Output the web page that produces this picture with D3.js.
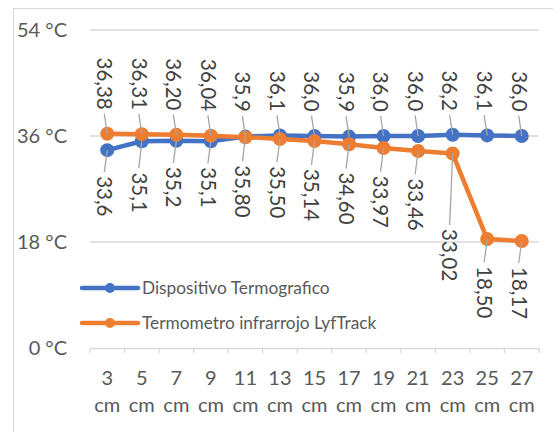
<!DOCTYPE html>
<html>
<head>
<meta charset="utf-8">
<script src="https://cdn.jsdelivr.net/npm/d3@7"></script>
<style>
  body { margin: 0; background: #fff; }
  svg { display: block; font-family: Lato, "Liberation Sans", sans-serif; }
</style>
</head>
<body>
<svg></svg>
<script>
// distances along the device
var categories = ["3 cm", "5 cm", "7 cm", "9 cm", "11 cm", "13 cm", "15 cm", "17 cm", "19 cm", "21 cm", "23 cm", "25 cm", "27 cm"];

// temperatures read by each device
var termografico = [33.6, 35.1, 35.2, 35.1, 35.9, 36.1, 36.0, 35.9, 36.0, 36.0, 36.2, 36.1, 36.0];
var lyftrack = [36.38, 36.31, 36.20, 36.04, 35.80, 35.50, 35.14, 34.60, 33.97, 33.46, 33.02, 18.50, 18.17];

// decimals shown in the labels
var termograficoDecimals = 1;
var lyftrackDecimals = 2;

var yTicks = [0, 18, 36, 54];

var seriesNames = ["Dispositivo Termografico", "Termometro infrarrojo LyfTrack"];
var colors = ["#4472C4", "#ED7D31"];

var width = 553;
var height = 432;

var svg = d3.select("svg")
            .attr("width", width)
            .attr("height", height);

// chart frame
svg.append("rect")
   .attr("x", 13.5)
   .attr("y", 8.5)
   .attr("width", 560)
   .attr("height", 440)
   .attr("fill", "#fff")
   .attr("stroke", "#d9d9d9");

var xScale = d3.scaleBand()
               .domain(categories)
               .range([90, 539]);

var yScale = d3.scaleLinear()
               .domain([0, 54])
               .range([348, 30]);

var cx = d => xScale(d) + xScale.bandwidth() / 2;

// gridlines
svg.append("g")
   .selectAll("line")
   .data(yTicks.filter(d => d > 0))
   .enter()
   .append("line")
     .attr("x1", 90)
     .attr("x2", 539)
     .attr("y1", d => yScale(d))
     .attr("y2", d => yScale(d))
     .attr("stroke", "#d9d9d9")
     .attr("stroke-width", 1.3);

// y labels
svg.append("g")
   .selectAll("text")
   .data(yTicks)
   .enter()
   .append("text")
     .attr("x", 67)
     .attr("y", d => yScale(d))
     .attr("dy", "0.35em")
     .attr("text-anchor", "end")
     .attr("fill", "#595959")
     .style("font-size", "20px")
     .text(d => d + " °C");

// x axis
var xAxis = svg.append("g")
   .attr("transform", "translate(0," + yScale(0) + ")")
   .call(d3.axisBottom(xScale).tickSize(0).tickFormat(""));
xAxis.select(".domain").attr("stroke", "#d9d9d9").attr("stroke-width", 1.3);

svg.append("g")
   .selectAll("line")
   .data(d3.range(categories.length + 1))
   .enter()
   .append("line")
     .attr("x1", i => 90 + i * xScale.bandwidth())
     .attr("x2", i => 90 + i * xScale.bandwidth())
     .attr("y1", yScale(0))
     .attr("y2", yScale(0) + 5)
     .attr("stroke", "#d9d9d9")
     .attr("stroke-width", 1.3);

var xLabels = svg.append("g")
   .selectAll("text")
   .data(categories)
   .enter()
   .append("text")
     .attr("text-anchor", "middle")
     .attr("fill", "#595959")
     .style("font-size", "20px");

xLabels.each(function(d) {
  var parts = d.split(" ");
  var t = d3.select(this);
  parts.forEach(function(p, i) {
    t.append("tspan")
     .attr("x", cx(d))
     .attr("y", 385 + i * 27)
     .text(p);
  });
});

// series
var allSeries = [termografico, lyftrack];
var decimals = [termograficoDecimals, lyftrackDecimals];

var line = d3.line()
             .x((d, i) => cx(categories[i]))
             .y(d => yScale(d));

// legend (drawn under the lines)
var legend = svg.append("g");
seriesNames.forEach(function(name, s) {
  var ly = 288 + s * 35;
  legend.append("line")
        .attr("x1", 82).attr("x2", 138)
        .attr("y1", ly).attr("y2", ly)
        .attr("stroke", colors[s])
        .attr("stroke-width", 4.5)
        .attr("stroke-linecap", "round");
  legend.append("circle")
        .attr("cx", 110).attr("cy", ly)
        .attr("r", 5)
        .attr("fill", colors[s]);
  legend.append("text")
        .attr("x", 142)
        .attr("y", ly)
        .attr("dy", "0.35em")
        .attr("fill", "#595959")
        .style("font-size", "17.3px")
        .text(name);
});

allSeries.forEach(function(vals, s) {
  svg.append("path")
     .datum(vals)
     .attr("d", line)
     .attr("fill", "none")
     .attr("stroke", colors[s])
     .attr("stroke-width", 4.5)
     .attr("stroke-linejoin", "round");

  svg.append("g")
     .selectAll("circle")
     .data(vals)
     .enter()
     .append("circle")
       .attr("cx", (d, i) => cx(categories[i]))
       .attr("cy", d => yScale(d))
       .attr("r", 7)
       .attr("fill", colors[s]);
});

// y of both lines over an x range (used to keep labels off the lines)
function lineExtent(x0, x1) {
  var ys = [];
  allSeries.forEach(function(vals) {
    for (var i = 0; i < vals.length - 1; i++) {
      var ax = cx(categories[i]), bx = cx(categories[i + 1]);
      var ay = yScale(vals[i]), by = yScale(vals[i + 1]);
      var lo = Math.max(x0, ax), hi = Math.min(x1, bx);
      if (lo > hi) continue;
      [lo, hi].forEach(function(x) {
        ys.push(ay + (by - ay) * (x - ax) / (bx - ax));
      });
    }
  });
  return d3.extent(ys);
}

// data labels: the higher series above, the other below
var fmt = (v, dec) => v.toFixed(dec).replace(".", ",");
var labels = [];
categories.forEach(function(c, i) {
  var upper = termografico[i] >= lyftrack[i] ? 0 : 1;
  allSeries.forEach(function(vals, s) {
    var x = cx(c);
    var py = yScale(vals[i]);
    var ext = lineExtent(x - 20, x + 20);
    var above = s === upper;
    var edge = above ? Math.min(py, ext[0]) - 24 : Math.max(py, ext[1]) + 26;
    labels.push({x: x, py: py, edge: edge, above: above, text: fmt(vals[i], decimals[s])});
  });
});

svg.append("g")
   .selectAll("line")
   .data(labels)
   .enter()
   .append("line")
     .attr("x1", d => d.x)
     .attr("y1", d => d.py)
     .attr("x2", d => d.x - 3)
     .attr("y2", d => d.above ? d.edge + 4 : d.edge - 4)
     .attr("stroke", "#a6a6a6")
     .attr("stroke-width", 1.3);

svg.append("g")
   .selectAll("text")
   .data(labels)
   .enter()
   .append("text")
     .attr("transform", d => "translate(" + (d.x - 3) + "," + d.edge + ") rotate(90)")
     .attr("text-anchor", d => d.above ? "end" : "start")
     .attr("dy", "0.35em")
     .attr("fill", "#404040")
     .style("font-size", "20.5px")
     .text(d => d.text);
</script>
</body>
</html>
